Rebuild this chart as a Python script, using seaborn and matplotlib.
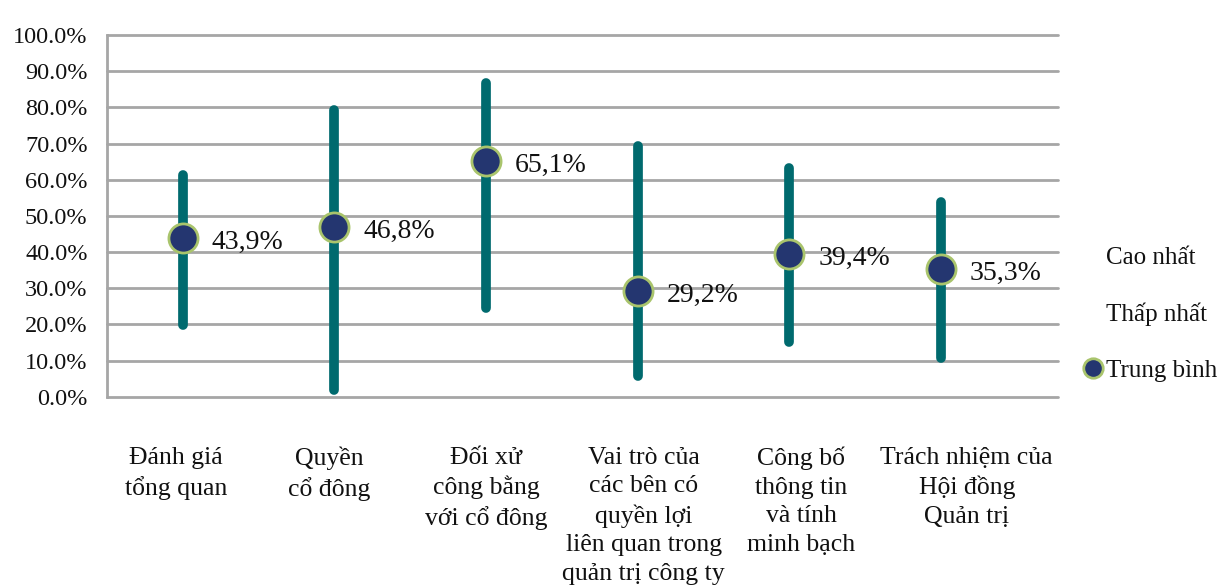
import pandas as pd
import matplotlib.pyplot as plt
import matplotlib.transforms as mtransforms
import seaborn as sns
from matplotlib.lines import Line2D

# data (percent)
categories = [
    "Đánh giá\ntổng quan",
    "Quyền\ncổ đông",
    "Đối xử\ncông bằng\nvới cổ đông",
    "Vai trò của\ncác bên có\nquyền lợi\nliên quan trong\nquản trị công ty",
    "Công bố\nthông tin\nvà tính\nminh bạch",
    "Trách nhiệm của\nHội đồng\nQuản trị",
]
highest = [61.4, 79.3, 86.8, 69.4, 63.1, 53.9]
lowest = [19.8, 1.9, 24.5, 5.6, 15.1, 10.7]
average = [43.9, 46.8, 65.1, 29.2, 39.4, 35.3]
avg_labels = ["43,9%", "46,8%", "65,1%", "29,2%", "39,4%", "35,3%"]

df = pd.DataFrame({"pos": range(len(categories)), "cat": categories,
                   "high": highest, "low": lowest, "avg": average})

sns.set_style("white")
plt.rcParams['font.family'] = ['Liberation Serif', 'DejaVu Serif']

fig = plt.figure(figsize=(12.23, 5.87), dpi=100)
ax = fig.add_axes([107 / 1223, 1 - 396.7 / 587, (1058 - 107) / 1223, (396.7 - 35) / 587])

grid_col = '#a6a6a6'
for y in range(0, 101, 10):
    ax.axhline(y, color=grid_col, lw=2, zorder=0, clip_on=False)

# high-low range lines
ax.vlines(df["pos"], df["low"], df["high"], color='#006a6e', lw=7,
          capstyle='round', zorder=2)

# averages
sns.scatterplot(data=df, x="pos", y="avg", ax=ax, s=440, color='#243670',
                edgecolor='#a9c46c', linewidth=2, zorder=3, legend=False)

for i, row in df.iterrows():
    ax.annotate(avg_labels[i], (row["pos"], row["avg"]), xytext=(21, -3),
                textcoords='offset points', va='center', ha='left',
                fontsize=20, color='#111111')

ax.set_xlim(-0.5, (1058 - 107) / 151.6 - 0.5)
ax.set_ylim(0, 100)
ax.set_yticks(range(0, 101, 10))
ax.set_yticklabels([f"{v}.0%" for v in range(0, 101, 10)], fontsize=17.5, color='#111111')
ax.set_xticks(df["pos"])
ax.set_xticklabels(categories, fontsize=18.5, color='#111111', linespacing=1.38,
                   va='top')
ax.tick_params(axis='x', length=0, pad=36)
ax.tick_params(axis='y', length=7, width=2, color=grid_col, pad=7)
ax.set_xlabel("")
ax.set_ylabel("")

# the wrapped category labels sit a little off their markers in the original
shifts = [-7, -5, 0, 6, 12, 26]
for lab, dx in zip(ax.get_xticklabels(), shifts):
    lab.set_transform(lab.get_transform() +
                      mtransforms.ScaledTranslation(dx / 100, 0, fig.dpi_scale_trans))

for side in ["top", "right", "bottom"]:
    ax.spines[side].set_visible(False)
ax.spines["left"].set_color(grid_col)
ax.spines["left"].set_linewidth(2)
ax.spines["left"].set_zorder(1)

handles = [
    Line2D([], [], linestyle='none'),
    Line2D([], [], linestyle='none'),
    Line2D([], [], linestyle='none', marker='o', markersize=14,
           markerfacecolor='#243670', markeredgecolor='#a9c46c', markeredgewidth=2),
]
fig.legend(handles, ["Cao nhất", "Thấp nhất", "Trung bình"], loc='center left',
           bbox_to_anchor=(1062 / 1223, 1 - 314 / 587), frameon=False,
           fontsize=18, labelcolor='#111111', handlelength=0.7,
           handletextpad=0.15, labelspacing=1.35)

fig.savefig("out.png", dpi=100)
